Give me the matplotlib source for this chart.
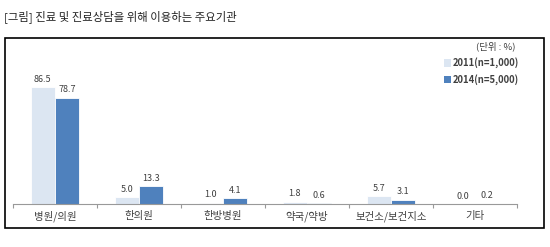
import matplotlib
matplotlib.use("Agg")
import matplotlib.pyplot as plt
from matplotlib.patches import Rectangle
import numpy as np

plt.rcParams['font.family'] = ['Noto Sans CJK KR', 'DejaVu Sans']

categories = ['병원/의원', '한의원', '한방병원', '약국/약방', '보건소/보건지소', '기타']
v2011 = [86.5, 5.0, 1.0, 1.8, 5.7, 0.0]
v2014 = [78.7, 13.3, 4.1, 0.6, 3.1, 0.2]
series_names = ['2011(n=1,000)', '2014(n=5,000)']
title = '[그림] 진료 및 진료상담을 위해 이용하는 주요기관'
unit = '(단위 : %)'

c_light = '#dce6f2'
c_dark = '#4f81bd'
txt = '#404040'

fig = plt.figure(figsize=(5.5, 2.47), dpi=100)
fig.patch.set_facecolor('white')

# outer frame
fig.patches.append(Rectangle((5/550, 1-228/247), (544-5)/550, (228-38)/247,
                             transform=fig.transFigure, fill=False,
                             edgecolor='black', linewidth=1.2))
fig.text(4/550, 1-17/247, title, fontsize=8.2, color='#222222', va='center', ha='left')

ax = fig.add_axes([13/550, 1-204/247, (517-13)/550, (204-69)/247])
x = np.arange(len(categories))
w = 0.29
b1 = ax.bar(x - w/2, v2011, w, color=c_light, edgecolor='white', linewidth=0.6)
b2 = ax.bar(x + w/2, v2014, w, color=c_dark, edgecolor='white', linewidth=0.6)
for rects, vals in ((b1, v2011), (b2, v2014)):
    for r, v in zip(rects, vals):
        ax.text(r.get_x() + r.get_width()/2, v + 2.5, f'{v:.1f}', ha='center', va='bottom',
                fontsize=6.5, color=txt, fontweight='medium')

ax.set_xlim(-0.5, len(categories) - 0.5)
ax.set_ylim(0, 100)
for s in ['top', 'right', 'left']:
    ax.spines[s].set_visible(False)
ax.spines['bottom'].set_color('#999999')
ax.spines['bottom'].set_linewidth(0.8)
ax.set_yticks([])
ax.set_xticks(x)
ax.set_xticklabels(categories, fontsize=7.5, color=txt)
ax.tick_params(axis='x', which='major', length=0, pad=5)
ax.set_xticks(np.arange(-0.5, len(categories)), minor=True)
ax.tick_params(axis='x', which='minor', length=3, direction='out', color='#999999', width=0.8)
ax.patch.set_alpha(0)

# legend
fig.text(515/550, 1-46/247, unit, fontsize=6.8, color=txt, ha='right', va='center')
for i, (name, col) in enumerate(zip(series_names, [c_light, c_dark])):
    yy = 1 - (63 + 17*i)/247
    fig.patches.append(Rectangle((444/550, yy - 3.5/247), 7/550, 7/247,
                                 transform=fig.transFigure, facecolor=col, edgecolor='none'))
    fig.text(453/550, yy, name, fontsize=6.8, color=txt, ha='left', va='center', fontweight='bold')

fig.savefig('out.png', dpi=100)
